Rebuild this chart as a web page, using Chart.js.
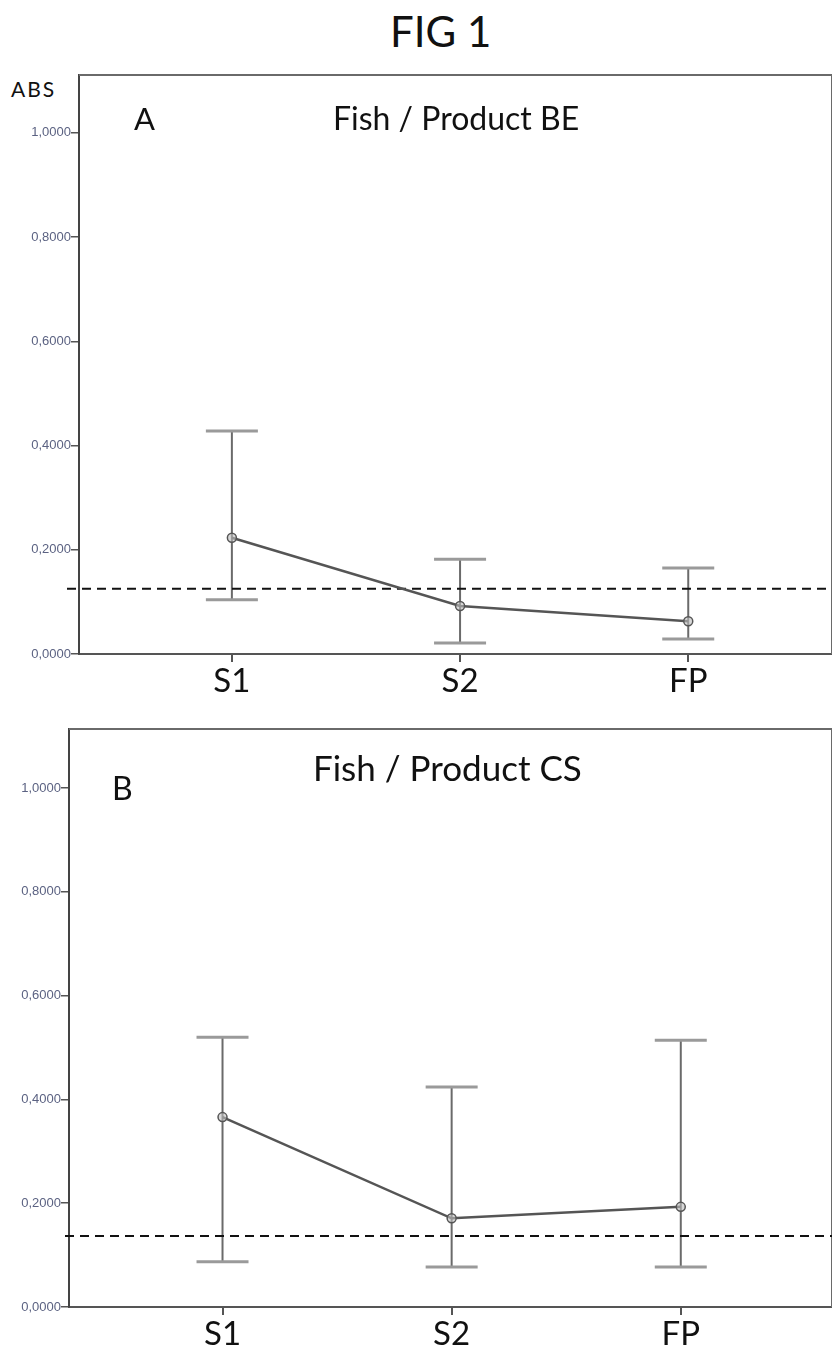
<!DOCTYPE html>
<html lang="en">
<head>
  <meta charset="UTF-8">
  <title>FIG 1</title>
  <script src="https://cdn.jsdelivr.net/npm/chart.js"></script>
  <style>
    body {
      margin: 0;
      background: #ffffff;
      width: 832px;
      height: 1354px;
      position: relative;
      overflow: hidden;
      font-family: 'Lato', sans-serif;
      color: #111;
    }

    canvas {
      position: absolute;
      left: 0;
    }

    .txt {
      position: absolute;
      line-height: 1;
      white-space: nowrap;
    }
  </style>
</head>
<body>
  <div class="txt" style="left:390px; top:10px; font-size:42px;">FIG 1</div>
  <div class="txt" style="left:11px; top:78px; font-size:21px; letter-spacing:2px;">ABS</div>

  <canvas id="chartA" width="832" height="650" style="top:60px;"></canvas>
  <canvas id="chartB" width="832" height="644" style="top:710px;"></canvas>

  <div class="txt" style="left:134px; top:103px; font-size:31px;">A</div>
  <div class="txt" style="left:333px; top:102px; font-size:32px;">Fish / Product BE</div>
  <div class="txt" style="left:112px; top:772px; font-size:32px;">B</div>
  <div class="txt" style="left:313px; top:750px; font-size:35px;">Fish / Product CS</div>

  <script>
    const categories = ['S1', 'S2', 'FP'];
    const xPos = [1, 2, 3];
    const yTicks = [0, 0.2, 0.4, 0.6, 0.8, 1.0];

    // panel A : Fish / Product BE
    const meanA = [0.223, 0.092, 0.063];
    const lowA = [0.104, 0.021, 0.029];
    const highA = [0.428, 0.182, 0.165];
    const cutoffA = 0.125;

    // panel B : Fish / Product CS
    const meanB = [0.366, 0.171, 0.193];
    const lowB = [0.087, 0.077, 0.077];
    const highB = [0.520, 0.424, 0.514];
    const cutoffB = 0.137;

    // frame, cut-off line and error bars
    const panelPlugin = {
      id: 'panel',
      beforeDatasetsDraw(chart, args, opts) {
        const { ctx, chartArea: a, scales: { x, y } } = chart;
        ctx.save();

        ctx.strokeStyle = '#6a6a6a';
        ctx.lineWidth = 2;
        ctx.beginPath();
        ctx.moveTo(a.left, a.top);
        ctx.lineTo(a.right, a.top);
        ctx.lineTo(a.right, a.bottom);
        ctx.stroke();

        opts.low.forEach((lo, i) => {
          const px = x.getPixelForValue(xPos[i]);
          const y1 = y.getPixelForValue(lo);
          const y2 = y.getPixelForValue(opts.high[i]);
          ctx.strokeStyle = '#6a6a6a';
          ctx.lineWidth = 2;
          ctx.beginPath();
          ctx.moveTo(px, y1);
          ctx.lineTo(px, y2);
          ctx.stroke();
          ctx.strokeStyle = '#9a9a9a';
          ctx.lineWidth = 3;
          ctx.beginPath();
          ctx.moveTo(px - 26, y1);
          ctx.lineTo(px + 26, y1);
          ctx.moveTo(px - 26, y2);
          ctx.lineTo(px + 26, y2);
          ctx.stroke();
        });

        const yc = y.getPixelForValue(opts.cutoff);
        ctx.setLineDash([9, 6]);
        ctx.strokeStyle = '#111';
        ctx.lineWidth = 2;
        ctx.beginPath();
        ctx.moveTo(a.left - opts.dashLead, yc);
        ctx.lineTo(a.right, yc);
        ctx.stroke();

        ctx.restore();
      }
    };

    function makeChart(id, mean, low, high, cutoff, lay) {
      const ctx = document.getElementById(id).getContext('2d');
      return new Chart(ctx, {
        type: 'line',
        data: {
          datasets: [{
            data: mean.map((v, i) => ({ x: xPos[i], y: v })),
            borderColor: '#555',
            borderWidth: 2.5,
            pointRadius: 4.5,
            pointBorderWidth: 1.5,
            pointBorderColor: '#555',
            pointBackgroundColor: 'rgba(190,190,190,0.6)',
            tension: 0
          }]
        },
        options: {
          responsive: false,
          animation: false,
          devicePixelRatio: 1,
          layout: { autoPadding: false, padding: { top: lay.padTop, left: 0, right: 0, bottom: 0 } },
          scales: {
            x: {
              type: 'linear',
              min: 0.33,
              max: lay.xMax,
              afterBuildTicks: s => { s.ticks = xPos.map(v => ({ value: v })); },
              afterFit: s => { s.height = lay.xHeight; },
              border: { color: '#555', width: 2 },
              grid: { drawOnChartArea: false, tickLength: 8, color: '#555', lineWidth: 2 },
              ticks: {
                padding: 0,
                color: '#111',
                font: { family: 'Lato', size: 33 },
                callback: v => categories[xPos.indexOf(v)]
              }
            },
            y: {
              min: 0,
              max: lay.yMax,
              afterBuildTicks: s => { s.ticks = yTicks.map(v => ({ value: v })); },
              afterFit: s => { s.width = lay.yWidth; },
              border: { color: '#444', width: 2 },
              grid: { drawOnChartArea: false, tickLength: 8, color: '#555', lineWidth: 1.5 },
              ticks: {
                padding: 0,
                color: '#5b6282',
                font: { family: 'Liberation Sans', size: 13 },
                callback: v => v.toFixed(4).replace('.', ',')
              }
            }
          },
          plugins: {
            legend: { display: false },
            tooltip: { enabled: false },
            panel: { low: low, high: high, cutoff: cutoff, dashLead: lay.dashLead }
          }
        },
        plugins: [panelPlugin]
      });
    }

    makeChart('chartA', meanA, lowA, highA, cutoffA,
      { padTop: 15, xHeight: 56, yWidth: 79, xMax: 3.63, yMax: 1.111, dashLead: 12 });
    makeChart('chartB', meanB, lowB, highB, cutoffB,
      { padTop: 19, xHeight: 47, yWidth: 69, xMax: 3.66, yMax: 1.114, dashLead: 4 });
  </script>
</body>
</html>
